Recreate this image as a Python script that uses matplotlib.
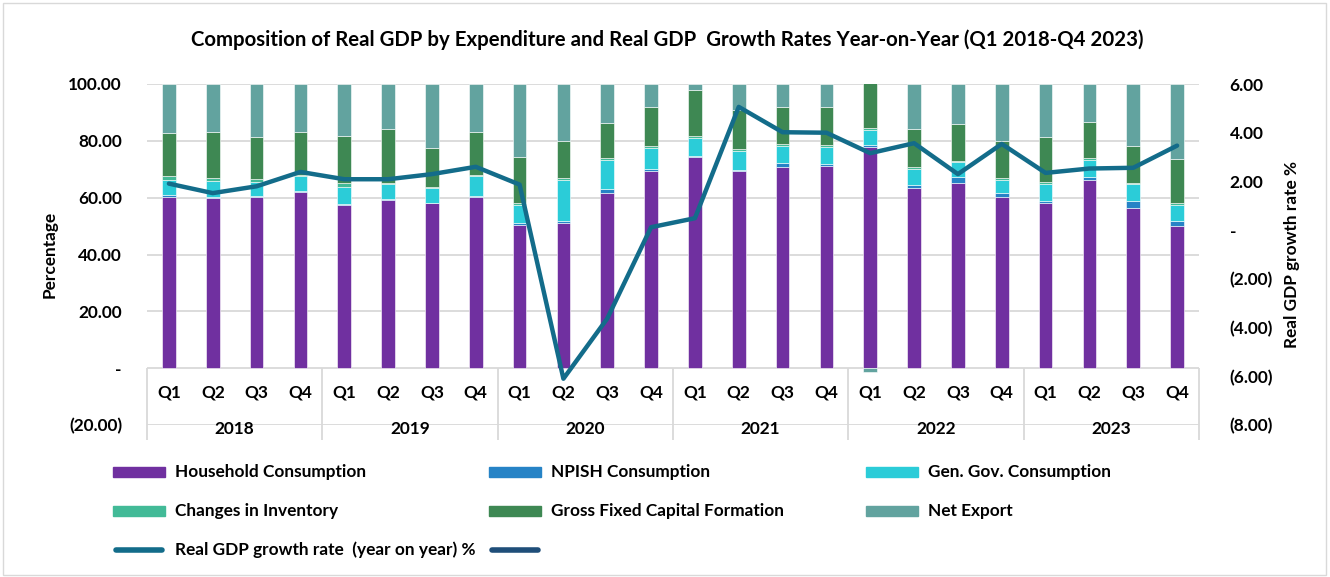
import matplotlib
matplotlib.use("Agg")
import matplotlib.pyplot as plt
from matplotlib.patches import Rectangle
from matplotlib.lines import Line2D
import numpy as np

plt.rcParams['font.family'] = ['Lato', 'DejaVu Sans']
plt.rcParams['font.weight'] = 'bold'
plt.rcParams['axes.labelweight'] = 'bold'

years = ['2018', '2019', '2020', '2021', '2022', '2023']
quarters = ['Q1', 'Q2', 'Q3', 'Q4']

household = [60.3, 60.0, 60.4, 62.1, 57.3, 59.2, 58.0, 60.3, 50.5, 51.2, 61.6, 69.3,
             74.2, 69.3, 70.7, 71.2, 78.0, 63.4, 65.0, 60.2, 58.0, 66.2, 56.5, 50.1]
npish = [0.6, 0.2, 0.2, 0.2, 0.6, 0.2, 0.2, 0.4, 0.6, 0.6, 1.3, 0.9,
         0.6, 0.6, 1.4, 0.8, 0.6, 0.9, 2.1, 1.3, 0.8, 0.9, 2.5, 1.7]
gen_gov = [5.4, 5.6, 5.0, 5.4, 5.9, 5.3, 5.1, 6.9, 6.3, 14.4, 10.5, 7.3,
           6.3, 6.6, 6.1, 6.0, 5.3, 5.9, 5.3, 4.8, 5.9, 6.1, 5.8, 5.7]
inventory = [1.2, 1.1, 0.9, 0.3, 1.2, 0.6, 0.5, 0.4, 0.8, 0.8, 0.5, 0.6,
             0.7, 0.8, 0.7, 0.5, 0.7, 0.7, 0.5, 0.6, 0.7, 0.6, 0.4, 0.5]
gfcf = [15.2, 16.3, 14.9, 15.0, 16.7, 18.8, 13.7, 15.2, 16.2, 13.1, 12.5, 13.7,
        16.0, 13.7, 12.9, 13.5, 16.8, 13.2, 13.1, 13.0, 15.8, 12.8, 13.0, 15.7]
net_export = [17.3, 16.8, 18.6, 17.0, 18.3, 15.9, 22.5, 16.8, 25.6, 19.9, 13.6, 8.2,
              2.2, 9.0, 8.2, 8.0, -1.4, 15.9, 14.0, 20.1, 18.8, 13.4, 21.8, 26.3]
growth = [1.91, 1.52, 1.80, 2.39, 2.09, 2.09, 2.30, 2.60, 1.87, -6.10, -3.63, 0.12,
          0.49, 5.06, 4.02, 4.00, 3.16, 3.57, 2.30, 3.54, 2.35, 2.53, 2.56, 3.47]

series = [
    ('Household Consumption', household, '#7030A0'),
    ('NPISH Consumption', npish, '#2683C6'),
    ('Gen. Gov. Consumption', gen_gov, '#2BCCD8'),
    ('Changes in Inventory', inventory, '#42BA97'),
    ('Gross Fixed Capital Formation', gfcf, '#3E8853'),
    ('Net Export', net_export, '#62A39F'),
]
line_color = '#136C8A'
grid_color = '#D9D9D9'
fs = 12.4

W, H = 1330, 577
fig = plt.figure(figsize=(W / 100, H / 100), dpi=100)
ax = fig.add_axes([147 / W, 1 - 425 / H, (1199 - 147) / W, (425 - 84) / H])

x = np.arange(len(household))
pos_base = np.zeros(len(x))
neg_base = np.zeros(len(x))
for name, vals, col in series:
    v = np.array(vals)
    bottom = np.where(v >= 0, pos_base, neg_base)
    ax.bar(x, v, width=0.31, bottom=bottom, color=col, edgecolor='white',
           linewidth=0.4, label=name, zorder=2)
    pos_base = pos_base + np.where(v >= 0, v, 0)
    neg_base = neg_base + np.where(v < 0, v, 0)

ax.set_xlim(-0.5, len(x) - 0.5)
ax.set_ylim(-20, 100)
ax.set_yticks(np.arange(-20, 101, 20))
ax.set_yticklabels(['(20.00)', '-', '20.00', '40.00', '60.00', '80.00', '100.00'])
ax.set_xticks([])
ax.yaxis.grid(True, color=grid_color, linewidth=1.3)
ax.set_axisbelow(True)
for s in ax.spines.values():
    s.set_visible(False)
ax.tick_params(axis='y', length=0, pad=18, labelsize=fs)
ax.set_ylabel('Percentage', fontsize=fs, labelpad=8)

# category axis (quarters and years)
for i in x:
    ax.text(i, -8.5, quarters[i % 4], ha='center', va='center', fontsize=fs)
for j, yr in enumerate(years):
    ax.text(4 * j + 1.5, -21.4, yr, ha='center', va='center', fontsize=fs, clip_on=False)
ax.vlines(np.arange(-0.5, len(x), 4), -25.4, 0, color=grid_color, linewidth=1.3,
          clip_on=False, zorder=1)

ax2 = ax.twinx()
ax2.plot(x, growth, color=line_color, linewidth=3.2, solid_joinstyle='round',
         solid_capstyle='round', zorder=5)
ax2.set_ylim(-8, 6)
ax2.set_yticks(np.arange(-8, 7, 2))
ax2.set_yticklabels(['(8.00)', '(6.00)', '(4.00)', '(2.00)', '-', '2.00', '4.00', '6.00'])
for s in ax2.spines.values():
    s.set_visible(False)
ax2.tick_params(axis='y', length=0, pad=22, labelsize=fs)
ax2.set_ylabel('Real GDP growth rate %', fontsize=fs, labelpad=8)

fig.text(667 / W, 1 - 40 / H,
         'Composition of Real GDP by Expenditure and Real GDP  Growth Rates Year-on-Year (Q1 2018-Q4 2023)',
         ha='center', va='center', fontsize=14.7)

# legend, laid out row by row like the original
col_x = [113, 489, 866]
row_y = [472, 511, 550]
for k, (name, vals, col) in enumerate(series):
    cx, ry = col_x[k % 3], row_y[k // 3]
    fig.patches.append(Rectangle((cx / W, 1 - (ry + 5) / H), 52 / W, 10 / H,
                                 transform=fig.transFigure, color=col))
    fig.text((cx + 62) / W, 1 - ry / H, name, ha='left', va='center', fontsize=fs)
fig.lines.append(Line2D([(113 + 3) / W, (165 - 3) / W], [1 - 550 / H] * 2,
                        transform=fig.transFigure, color=line_color, lw=4,
                        solid_capstyle='round'))
fig.text((113 + 62) / W, 1 - 550 / H, 'Real GDP growth rate  (year on year) %',
         ha='left', va='center', fontsize=fs)
fig.lines.append(Line2D([(489 + 3) / W, (541 - 3) / W], [1 - 550 / H] * 2,
                        transform=fig.transFigure, color='#1F4E79', lw=4,
                        solid_capstyle='round'))

fig.patches.append(Rectangle((3 / W, 2 / H), (W - 7) / W, (H - 5) / H,
                             transform=fig.transFigure, fill=False,
                             edgecolor=grid_color, linewidth=1))

fig.savefig('out.png', dpi=100)
